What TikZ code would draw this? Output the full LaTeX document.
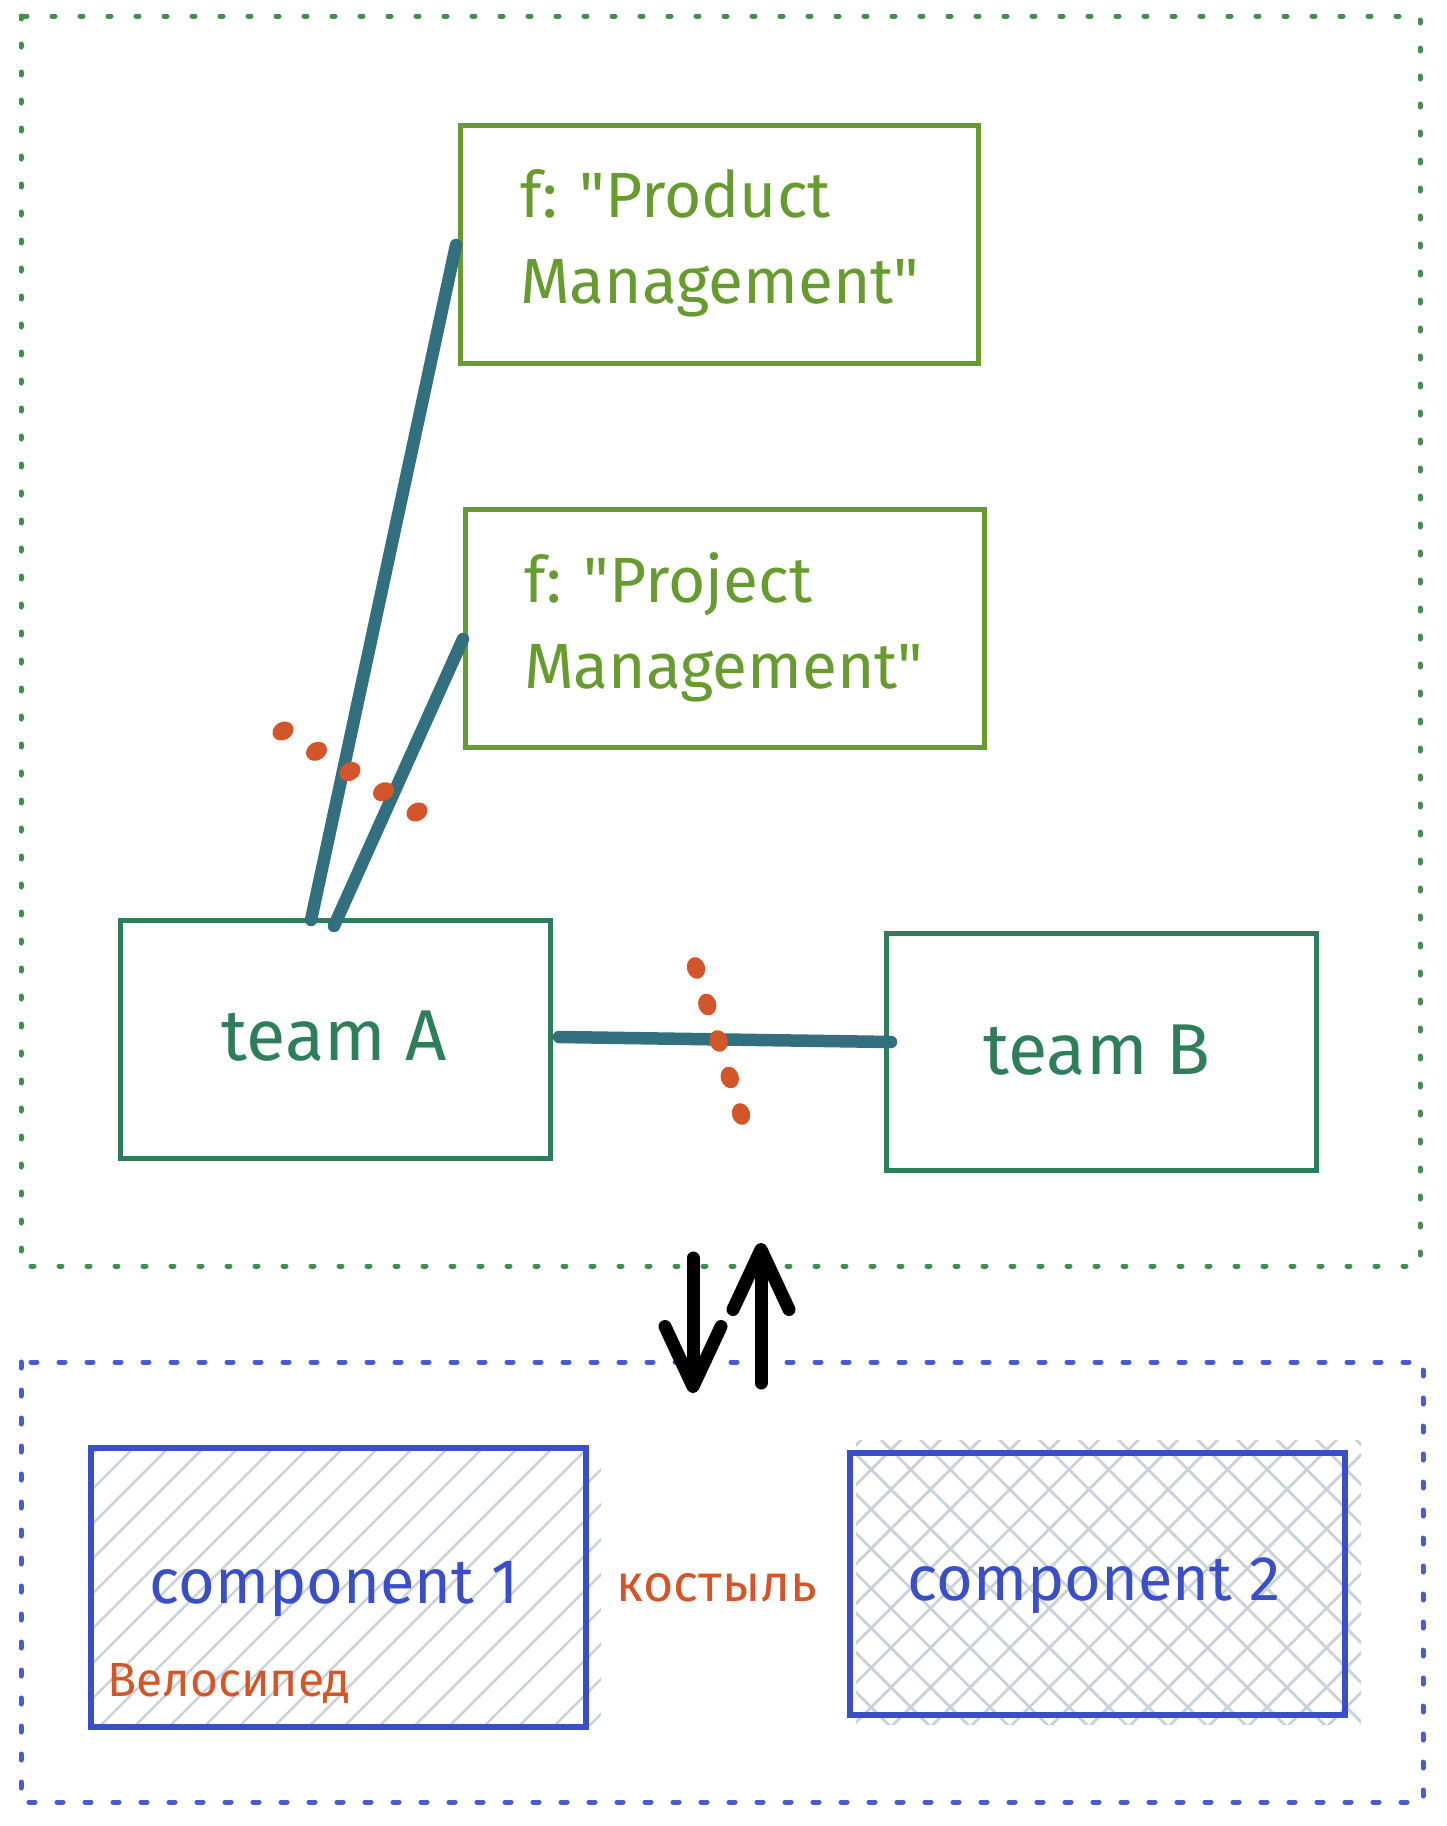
\documentclass[tikz,border=0pt]{standalone}
\usepackage{fontspec}
\setmainfont{Fira Sans}[Ligatures=TeXOff]
\usetikzlibrary{arrows.meta,patterns.meta,calc}
\definecolor{olive}{HTML}{679A2F}
\definecolor{teamgreen}{HTML}{2E7D5B}
\definecolor{linkteal}{HTML}{33707F}
\definecolor{cutred}{HTML}{D2562A}
\definecolor{compblue}{HTML}{3A4FC6}
\definecolor{frameblue}{HTML}{4A5BD0}
\definecolor{framegreen}{HTML}{3F8F50}
\definecolor{hatchgray}{HTML}{CBD1D8}
\begin{document}
\begin{tikzpicture}[x=1pt,y=-1pt,
  bigtxt/.style={font=\fontsize{64}{86}\selectfont},
  fnbox/.style={draw=olive,line width=5pt,minimum width=518pt,minimum height=238pt,inner sep=0pt},
  teambox/.style={draw=teamgreen,line width=5pt,minimum width=430pt,minimum height=237pt,inner sep=0pt},
  compbox/.style={draw=compblue,line width=5.5pt,inner sep=0pt},
  link/.style={draw=linkteal,line width=12.5pt,line cap=round},
  cutdot/.style={fill=cutred},
  vert/.style={draw=black,line width=13pt,line cap=round,-{Straight Barb[length=60pt,width=56pt,round]}},
  gframe/.style={draw=framegreen,line width=5pt,line cap=round,dash pattern=on 3pt off 25pt},
  bframe/.style={draw=frameblue,line width=5pt,line cap=round,dash pattern=on 6pt off 22pt}]
\useasboundingbox (0,0) rectangle (1446,1826);
% group frames
\draw[gframe] (21,16) rectangle (1420,1266);
\draw[bframe] (21,1362) rectangle (1423,1802);
% hatch fills
\fill[pattern={Lines[angle=45,distance=24.7pt,line width=2.4pt]},pattern color=hatchgray] (94,1450) rectangle (601,1725);
\fill[pattern={Hatch[angle=45,distance=28pt,line width=2.8pt]},pattern color=hatchgray] (856,1440) rectangle (1361,1724);
% nodes
\node[fnbox] (prod) at (719,244) {};
\node[fnbox,minimum width=519pt] (proj) at (724.5,628) {};
\node[teambox,minimum height=238pt] (teamA) at (335,1039) {};
\node[teambox] (teamB) at (1101,1051.5) {};
\node[compbox,minimum width=495pt,minimum height=279pt] (comp1) at (338.5,1587.5) {};
\node[compbox,minimum width=495pt,minimum height=262pt] (comp2) at (1097.5,1584) {};
% labels
\node[bigtxt,text=olive,align=left,anchor=west,inner sep=0pt] (prodtxt) at (520,243) {f: "Product\\Management"};
\node[bigtxt,text=olive,align=left,anchor=west,inner sep=0pt] (projtxt) at (524,627) {f: "Project\\Management"};
\node[text=teamgreen,font=\fontsize{72}{86}\selectfont] (teamAtxt) at (334,1036) {team A};
\node[text=teamgreen,font=\fontsize{72}{86}\selectfont] (teamBtxt) at (1097,1050) {team B};
\node[text=compblue,font=\fontsize{63}{80}\selectfont] (comp1txt) at (334,1589) {component 1};
\node[text=compblue,font=\fontsize{63}{80}\selectfont] (comp2txt) at (1094,1586) {component 2};
\node[text=cutred,font=\fontsize{52}{60}\selectfont] (kost) at (717,1588) {костыль};
\node[text=cutred,font=\fontsize{48}{56}\selectfont] (velo) at (229,1684) {Велосипед};
% connectors
\coordinate (p1) at (456,245);
\coordinate (a1) at (311,920);
\coordinate (p2) at (463,639);
\coordinate (a2) at (334,926);
\coordinate (ab1) at (559,1037);
\coordinate (ab2) at (891,1042);
\draw[link] (p1) -- (a1);
\draw[link] (p2) -- (a2);
\draw[link] (ab1) -- (ab2);
% cut marks
\coordinate (c1s) at (283,731);
\coordinate (c1e) at (417,812);
\coordinate (c2s) at (696,968);
\coordinate (c2e) at (741,1114);
\foreach \t in {0,0.25,0.5,0.75,1}{
  \fill[cutdot,rotate around={31:($(c1s)!\t!(c1e)$)}] ($(c1s)!\t!(c1e)$) ellipse (11pt and 9pt);
  \fill[cutdot,rotate around={-73:($(c2s)!\t!(c2e)$)}] ($(c2s)!\t!(c2e)$) ellipse (11pt and 9pt);
}
% arrows between groups
\coordinate (dtail) at (693,1258);
\coordinate (dtip) at (693,1393);
\coordinate (utail) at (761,1383);
\coordinate (utip) at (761,1243);
\draw[vert] (dtail) -- (dtip);
\draw[vert] (utail) -- (utip);
\end{tikzpicture}
\end{document}
